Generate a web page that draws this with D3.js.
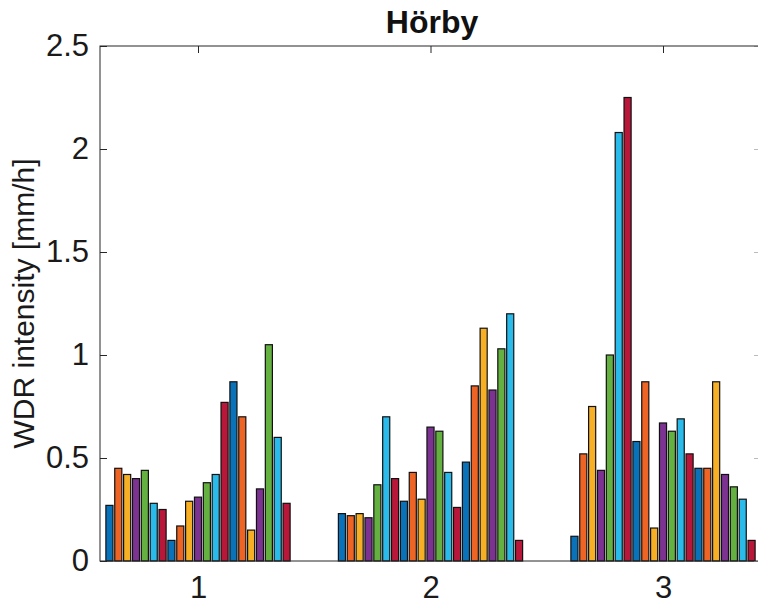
<!DOCTYPE html>
<html>
<head>
<meta charset="utf-8">
<script src="https://cdn.jsdelivr.net/npm/d3@7"></script>
<style>
  body { margin: 0; background: #fff; }
  svg { display: block; font-family: "Liberation Sans", Arial, sans-serif; }
</style>
</head>
<body>
<div id="chart"></div>
<script>
// groups on the x axis
const groups = [1, 2, 3];
// 21 bars per group, colours cycle through the MATLAB palette
const group1 = [0.27, 0.45, 0.42, 0.40, 0.44, 0.28, 0.25, 0.10, 0.17, 0.29, 0.31, 0.38, 0.42, 0.77, 0.87, 0.70, 0.15, 0.35, 1.05, 0.60, 0.28];
const group2 = [0.23, 0.22, 0.23, 0.21, 0.37, 0.70, 0.40, 0.29, 0.43, 0.30, 0.65, 0.63, 0.43, 0.26, 0.48, 0.85, 1.13, 0.83, 1.03, 1.20, 0.10];
const group3 = [0.12, 0.52, 0.75, 0.44, 1.00, 2.08, 2.25, 0.58, 0.87, 0.16, 0.67, 0.63, 0.69, 0.52, 0.45, 0.45, 0.87, 0.42, 0.36, 0.30, 0.10];
const yTicks = [0, 0.5, 1, 1.5, 2, 2.5];
const palette = ["#0a72b8", "#ee6424", "#f7b025", "#7c3291", "#64b040", "#2bbbea", "#b8173a"];

const width = 758, height = 605;
const margin = {left: 100, right: -2, top: 46, bottom: 44};

const svg = d3.select("#chart").append("svg")
    .attr("width", width)
    .attr("height", height);

const seriesData = [group1, group2, group3];

// x position of group centres
const x = d3.scaleLinear()
    .domain([1, 3])
    .range([198, 663]);
const groupWidth = (x(2) - x(1)) * 0.8;

const inner = d3.scaleBand()
    .domain(d3.range(group1.length))
    .range([-groupWidth / 2, groupWidth / 2])
    .paddingInner(0.2)
    .paddingOuter(0.1);

const y = d3.scaleLinear()
    .domain([0, 2.5])
    .range([height - margin.bottom, margin.top]);

const x0 = margin.left, x1 = width - margin.right;

// bars
const g = svg.append("g");
seriesData.forEach((vals, gi) => {
    g.selectAll(null)
        .data(vals)
        .enter().append("rect")
        .attr("x", (d, i) => x(groups[gi]) + inner(i))
        .attr("y", d => y(d))
        .attr("width", inner.bandwidth())
        .attr("height", d => y(0) - y(d))
        .attr("fill", (d, i) => palette[i % palette.length])
        .attr("stroke", "#111")
        .attr("stroke-width", 1.2);
});

// left axis
const yAxis = d3.axisLeft(y).tickValues(yTicks).tickSize(-7).tickPadding(11)
    .tickFormat(d => d);
svg.append("g")
    .attr("transform", `translate(${x0},0)`)
    .call(yAxis)
    .call(s => s.select(".domain").remove())
    .call(s => s.selectAll(".tick line").attr("stroke", "#262626"))
    .call(s => s.selectAll("text").attr("font-size", 31).attr("fill", "#1a1a1a")
        .attr("font-family", "Liberation Sans, Arial, sans-serif"));

// right axis ticks
const yAxisR = d3.axisRight(y).tickValues(yTicks).tickSize(-6).tickFormat("");
svg.append("g")
    .attr("transform", `translate(${x1},0)`)
    .call(yAxisR)
    .call(s => s.select(".domain").remove())
    .call(s => s.selectAll(".tick line").attr("stroke", "#bbb"));

// bottom axis labels
const xAxis = d3.axisBottom(x).tickValues(groups).tickSize(0).tickPadding(15).tickFormat(d => d);
svg.append("g")
    .attr("transform", `translate(0,${y(0)})`)
    .call(xAxis)
    .call(s => s.select(".domain").remove())
    .call(s => s.selectAll("text").attr("font-size", 31).attr("fill", "#1a1a1a")
        .attr("font-family", "Liberation Sans, Arial, sans-serif"));

// top ticks
const xAxisT = d3.axisTop(x).tickValues(groups).tickSize(-7).tickFormat("");
svg.append("g")
    .attr("transform", `translate(0,${y(2.5)})`)
    .call(xAxisT)
    .call(s => s.select(".domain").remove())
    .call(s => s.selectAll(".tick line").attr("stroke", "#262626"));

// box
svg.append("rect")
    .attr("x", x0)
    .attr("y", y(2.5))
    .attr("width", x1 - x0)
    .attr("height", y(0) - y(2.5))
    .attr("fill", "none")
    .attr("stroke", "#262626")
    .attr("stroke-width", 1);

// title
svg.append("text")
    .attr("x", 432)
    .attr("y", 33)
    .attr("text-anchor", "middle")
    .attr("font-size", 32)
    .attr("font-weight", "bold")
    .attr("fill", "#111")
    .text("Hörby");

// y label
svg.append("text")
    .attr("transform", `translate(34,${(y(0) + y(2.5)) / 2}) rotate(-90)`)
    .attr("text-anchor", "middle")
    .attr("font-size", 30)
    .attr("fill", "#1a1a1a")
    .text("WDR intensity [mm/h]");
</script>
</body>
</html>
